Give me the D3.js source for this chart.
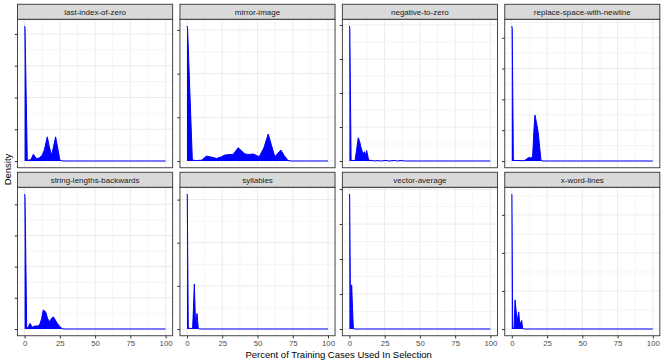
<!DOCTYPE html>
<html>
<head>
<meta charset="utf-8">
<script src="https://cdn.jsdelivr.net/npm/d3@7"></script>
<style>
  body { margin: 0; background: #fff; }
  svg text { font-family: "Liberation Sans", Arial, sans-serif; }
</style>
</head>
<body>
<div id="chart"></div>
<script>
// datos: [porcentaje, densidad]
const panelNames = ["last-index-of-zero", "mirror-image", "negative-to-zero", "replace-space-with-newline",
                    "string-lengths-backwards", "syllables", "vector-average", "x-word-lines"];

const lastIndexOfZero = [[0, 0.425], [0.3, 0.42], [1.9, 0.002], [4.5, 0.004], [6.2, 0.021], [8.5, 0.007], [10.5, 0.010],
  [12.5, 0.018], [14, 0.035], [16.1, 0.076], [17.5, 0.045], [19.2, 0.018], [20.5, 0.045], [22, 0.076], [23.5, 0.04],
  [25, 0.003], [27, 0], [100, 0]];
const mirrorImage = [[0, 0.309], [0.4, 0.303], [3.8, 0.002], [7, 0.001], [10.4, 0.002], [13.9, 0.0114], [17, 0.009],
  [21, 0.006], [24, 0.009], [26.9, 0.0137], [32.8, 0.0153], [36.3, 0.0304], [41.1, 0.016], [44, 0.015], [47, 0.016],
  [51.2, 0.0098], [54.5, 0.03], [57.6, 0.0618], [60, 0.035], [62.3, 0.0098], [64.5, 0.018], [66.6, 0.025], [69, 0.012],
  [71.7, 0.001], [74, 0], [100, 0]];
const negativeToZero = [[0, 0.397], [0.3, 0.39], [1.2, 0.002], [4, 0.001], [5, 0.03], [6.3, 0.0685], [7.2, 0.058],
  [8.1, 0.042], [9.2, 0.027], [9.9, 0.021], [10.6, 0.027], [11.5, 0.018], [12.2, 0.031], [13.4, 0.008], [14.1, 0.001],
  [16, 0.002], [17.5, 0], [20, 0.0015], [22, 0], [26, 0.0015], [28, 0], [32, 0.0015], [34, 0], [37, 0.0015], [39, 0], [100, 0]];
const replaceSpace = [[0, 0.438], [0.3, 0.43], [1.1, 0.002], [8.9, 0.001], [10.5, 0.0065], [12.4, 0.012], [13.6, 0.0088],
  [14.8, 0.016], [15.7, 0.10], [16.4, 0.149], [17.6, 0.122], [18.8, 0.09], [19.5, 0.057], [20.7, 0.002], [22, 0], [100, 0]];
const stringLengths = [[0, 0.433], [0.3, 0.425], [1.5, 0.002], [2.8, 0.008], [3.8, 0.018], [5.5, 0.0055], [7.3, 0.0096],
  [9.7, 0.0096], [10.9, 0.016], [12.1, 0.034], [13.2, 0.061], [14.9, 0.055], [16.3, 0.034], [17.5, 0.023], [18.7, 0.031],
  [20.3, 0.039], [21.5, 0.031], [23.2, 0.018], [25, 0.0074], [26.7, 0.001], [28, 0], [100, 0]];
const syllables = [[0, 0.313], [0.2, 0.31], [0.9, 0.002], [4, 0.001], [4.6, 0.05], [5.2, 0.104], [5.7, 0.05], [6.1, 0.005],
  [6.6, 0.02], [7.1, 0.036], [7.5, 0.02], [8, 0.001], [9, 0], [100, 0]];
const vectorAverage = [[0, 0.386], [0.2, 0.38], [0.9, 0.002], [1.1, 0.001], [1.6, 0.126], [2.2, 0.06], [2.8, 0.001],
  [4, 0], [100, 0]];
const xWordLines = [[0, 0.355], [0.1, 0.35], [0.6, 0.002], [1.6, 0.002], [2.3, 0.0765], [3, 0.05], [3.7, 0.019],
  [4.2, 0.03], [4.9, 0.045], [5.6, 0.015], [6.2, 0.016], [7, 0.0225], [7.7, 0.001], [9, 0], [100, 0]];

const panelData = [lastIndexOfZero, mirrorImage, negativeToZero, replaceSpace, stringLengths, syllables, vectorAverage, xWordLines];

// ticks del eje y (sin etiquetas en el original)
const yTicks = [[0, 0.1, 0.2, 0.3, 0.4], [0, 0.1, 0.2, 0.3], [0, 0.1, 0.2, 0.3, 0.4], [0, 0.1, 0.2, 0.3, 0.4],
                [0, 0.1, 0.2, 0.3, 0.4], [0, 0.1, 0.2, 0.3], [0, 0.1, 0.2, 0.3, 0.4], [0, 0.1, 0.2, 0.3]];
const xTicks = [0, 25, 50, 75, 100];
const xMinor = [12.5, 37.5, 62.5, 87.5];

// ----------------------------------------------------------

const width = 664;
const height = 363;
const colX = [17.55, 179.95, 342.35, 504.75];
const rowY = [19.25, 187.25];
const panelW = 155.1;
const panelH = 148.5;
const stripH = 15;

const svg = d3.select("div#chart").append("svg").attr("width", width).attr("height", height)

const x = d3.scaleLinear().domain([-5, 105]).range([0, panelW])

panelNames.forEach((name, i) => {
    const col = i % 4, row = Math.floor(i / 4)
    const data = panelData[i]
    const maxY = d3.max(data, d => d[1])
    const y = d3.scaleLinear().domain([-0.05 * maxY, 1.05 * maxY]).range([panelH, 0])

    const g = svg.append("g").attr("transform", `translate(${colX[col]}, ${rowY[row]})`)

    g.append("rect").attr("width", panelW).attr("height", panelH).attr("fill", "white")

    // rejilla menor y mayor
    const ticks = yTicks[i]
    const step = ticks[1] - ticks[0]
    const yMinor = [ticks[0] - step / 2].concat(ticks.map(t => t + step / 2))
        .filter(t => t > y.domain()[0] && t < y.domain()[1])
    g.selectAll(".ymin").data(yMinor).enter().append("line")
        .attr("x1", 0).attr("x2", panelW).attr("y1", d => y(d)).attr("y2", d => y(d))
        .attr("stroke", "#ebebeb").attr("stroke-width", 0.5)
    g.selectAll(".xmin").data(xMinor).enter().append("line")
        .attr("y1", 0).attr("y2", panelH).attr("x1", d => x(d)).attr("x2", d => x(d))
        .attr("stroke", "#ebebeb").attr("stroke-width", 0.5)
    g.selectAll(".ymaj").data(ticks).enter().append("line")
        .attr("x1", 0).attr("x2", panelW).attr("y1", d => y(d)).attr("y2", d => y(d))
        .attr("stroke", "#ebebeb").attr("stroke-width", 1)
    g.selectAll(".xmaj").data(xTicks).enter().append("line")
        .attr("y1", 0).attr("y2", panelH).attr("x1", d => x(d)).attr("x2", d => x(d))
        .attr("stroke", "#ebebeb").attr("stroke-width", 1)

    // area de densidad
    const area = d3.area().x(d => x(d[0])).y0(y(0)).y1(d => y(d[1]))
    const line = d3.line().x(d => x(d[0])).y(d => y(d[1]))
    g.append("path").datum(data).attr("d", area).attr("fill", "blue")
    g.append("path").datum(data).attr("d", line).attr("fill", "none")
        .attr("stroke", "blue").attr("stroke-width", 1)

    g.append("rect").attr("width", panelW).attr("height", panelH)
        .attr("fill", "none").attr("stroke", "#333333").attr("stroke-width", 0.9)

    // eje y: solo ticks
    const yAxis = d3.axisLeft(y).tickValues(ticks).tickFormat("").tickSize(2.7).tickSizeOuter(0)
    const ya = g.append("g").call(yAxis)
    ya.select(".domain").remove()
    ya.selectAll("line").attr("stroke", "#333333")

    // etiqueta del panel
    const strip = g.append("g").attr("transform", `translate(0, ${-stripH})`)
    strip.append("rect").attr("width", panelW).attr("height", stripH)
        .attr("fill", "#d9d9d9").attr("stroke", "#333333").attr("stroke-width", 0.9)
    strip.append("text").attr("x", panelW / 2).attr("y", stripH / 2).attr("dy", "0.35em")
        .attr("text-anchor", "middle").attr("font-size", 8).attr("fill", "#1a1a1a").text(name)

    // eje x solo en la fila de abajo
    if (row === 1) {
        const xAxis = d3.axisBottom(x).tickValues(xTicks).tickSize(2.7).tickSizeOuter(0).tickPadding(2)
        const xa = g.append("g").attr("transform", `translate(0, ${panelH})`).call(xAxis)
        xa.select(".domain").remove()
        xa.selectAll("line").attr("stroke", "#333333")
        xa.selectAll("text").attr("font-size", 7.8).attr("fill", "#4d4d4d")
            .attr("font-family", "Liberation Sans, Arial, sans-serif")
    }
})

// titulos de ejes
svg.append("text").attr("x", (colX[0] + colX[3] + panelW) / 2).attr("y", 357.5)
    .attr("text-anchor", "middle").attr("font-size", 9.5).attr("fill", "black")
    .text("Percent of Training Cases Used In Selection")
svg.append("text").attr("transform", `translate(11, ${(rowY[0] + rowY[1] + panelH) / 2 - 8}) rotate(-90)`)
    .attr("text-anchor", "middle").attr("font-size", 9.5).attr("fill", "black")
    .text("Density")
</script>
</body>
</html>
